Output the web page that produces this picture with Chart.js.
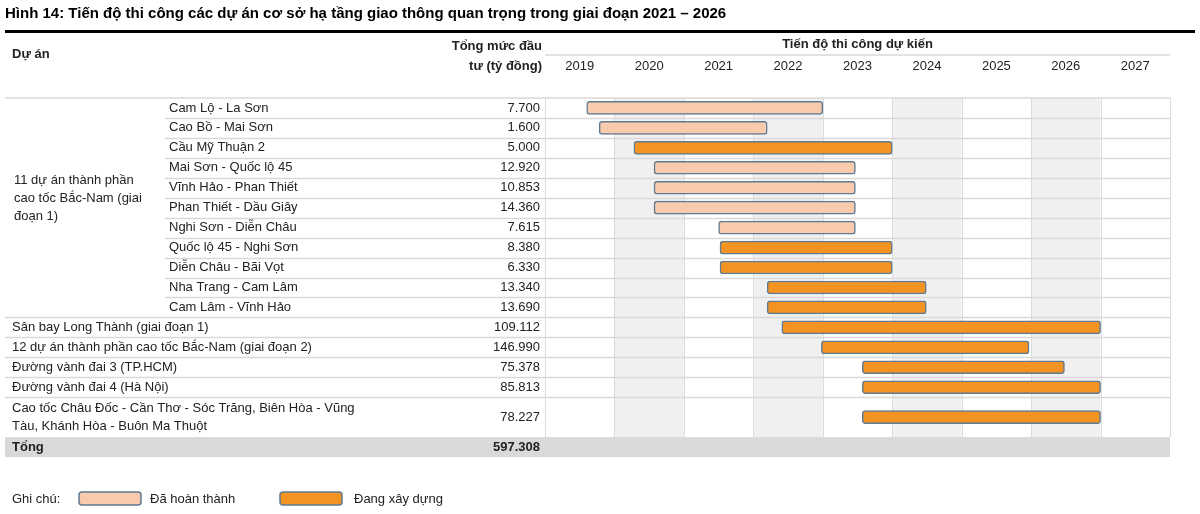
<!DOCTYPE html>
<html>
<head>
<meta charset="utf-8">
<script src="https://cdn.jsdelivr.net/npm/chart.js@4"></script>
<style>
  html, body { margin: 0; padding: 0; background: #fff; }
  #wrap { width: 1200px; height: 514px; position: relative; }
</style>
</head>
<body>
<div id="wrap"><canvas id="gantt" width="1200" height="514"></canvas></div>
<script>
// table rows
const projects = [
  "Cam Lộ - La Sơn", "Cao Bồ - Mai Sơn", "Cầu Mỹ Thuận 2", "Mai Sơn - Quốc lộ 45",
  "Vĩnh Hảo - Phan Thiết", "Phan Thiết - Dầu Giây", "Nghi Sơn - Diễn Châu",
  "Quốc lộ 45 - Nghi Sơn", "Diễn Châu - Bãi Vọt", "Nha Trang - Cam Lâm", "Cam Lâm - Vĩnh Hảo",
  "Sân bay Long Thành (giai đoạn 1)", "12 dự án thành phần cao tốc Bắc-Nam (giai đoạn 2)",
  "Đường vành đai 3 (TP.HCM)", "Đường vành đai 4 (Hà Nội)",
  ["Cao tốc Châu Đốc - Cần Thơ - Sóc Trăng, Biên Hòa - Vũng", "Tàu, Khánh Hòa - Buôn Ma Thuột"]
];
const investment = ["7.700", "1.600", "5.000", "12.920", "10.853", "14.360", "7.615", "8.380",
  "6.330", "13.340", "13.690", "109.112", "146.990", "75.378", "85.813", "78.227"];
const startYear = [2019.6, 2019.78, 2020.28, 2020.57, 2020.57, 2020.57, 2021.5, 2021.52,
  2021.52, 2022.2, 2022.2, 2022.41, 2022.98, 2023.57, 2023.57, 2023.57];
const endYear = [2023.0, 2022.2, 2024.0, 2023.47, 2023.47, 2023.47, 2023.47, 2024.0,
  2024.0, 2024.49, 2024.49, 2027.0, 2025.97, 2026.48, 2027.0, 2027.0];
const completed = [true, true, false, true, true, true, true, false, false, false, false,
  false, false, false, false, false];
const years = [2019, 2020, 2021, 2022, 2023, 2024, 2025, 2026, 2027];
const totalLabel = "Tổng";
const totalValue = "597.308";
const groupLabel = ["11 dự án thành phần", "cao tốc Bắc-Nam (giai", "đoạn 1)"];

// row heights (last project spans two text lines)
const rowH = projects.map(p => Array.isArray(p) ? 2 : 1);
const rowTop = [];
let acc = 0;
rowH.forEach(h => { rowTop.push(acc); acc += h; });
const totalTop = acc;
const yMax = acc + 1;

const lightFill = "#f8cbad", orangeFill = "#f39322", barBorder = "#5f7a93";
const FONT = "'Liberation Sans', Arial, sans-serif";

function rowData(done) {
  return startYear.map((s, i) => completed[i] === done
    ? { x: [s, endYear[i]], y: rowTop[i] + rowH[i] / 2 } : null).filter(Boolean);
}

const tablePlugin = {
  id: "tablePlugin",
  beforeDatasetsDraw(chart) {
    const ctx = chart.ctx, xs = chart.scales.x, ys = chart.scales.y;
    const left = xs.left, right = xs.right;
    const py = v => ys.getPixelForValue(v);
    ctx.save();
    // shaded year columns
    ctx.fillStyle = "#f0f0f0";
    years.forEach(y => {
      if (y % 2 === 0) ctx.fillRect(xs.getPixelForValue(y), py(0), xs.getPixelForValue(y + 1) - xs.getPixelForValue(y), py(totalTop) - py(0));
    });
    // vertical grid
    ctx.strokeStyle = "#dcdcdc"; ctx.lineWidth = 1;
    years.concat([2028]).forEach(y => {
      const x = Math.round(xs.getPixelForValue(y)) + 0.5;
      ctx.beginPath(); ctx.moveTo(x, py(0)); ctx.lineTo(x, py(totalTop)); ctx.stroke();
    });
    // horizontal row lines
    rowTop.forEach((t, i) => {
      if (i === 0) return;
      const yy = Math.round(py(t)) + 0.5;
      ctx.strokeStyle = "#d9d9d9"; ctx.lineWidth = 1.5;
      ctx.beginPath(); ctx.moveTo(i < 11 ? 165 : 5, yy); ctx.lineTo(right, yy); ctx.stroke();
    });
    // total row
    ctx.fillStyle = "#d9d9d9";
    ctx.fillRect(5, py(totalTop), right - 5, py(yMax) - py(totalTop));
    // header lines
    ctx.strokeStyle = "#d9d9d9"; ctx.lineWidth = 1.5;
    ctx.beginPath(); ctx.moveTo(5, py(0)); ctx.lineTo(right, py(0)); ctx.stroke();
    ctx.beginPath(); ctx.moveTo(left, 55); ctx.lineTo(right, 55); ctx.stroke();

    // texts
    ctx.fillStyle = "#222"; ctx.textBaseline = "middle";
    ctx.font = "bold 13px " + FONT;
    ctx.textAlign = "left"; ctx.fillText("Dự án", 12, 54);
    ctx.textAlign = "right"; ctx.fillText("Tổng mức đầu", 542, 46); ctx.fillText("tư (tỷ đồng)", 542, 66);
    ctx.textAlign = "center"; ctx.fillText("Tiến độ thi công dự kiến", (left + right) / 2, 44);
    ctx.font = "13px " + FONT;
    years.forEach(y => ctx.fillText(String(y), xs.getPixelForValue(y + 0.5), 66));

    projects.forEach((p, i) => {
      const c = py(rowTop[i] + rowH[i] / 2);
      ctx.textAlign = "left";
      const x0 = i < 11 ? 169 : 12;
      if (Array.isArray(p)) { ctx.fillText(p[0], x0, c - 9); ctx.fillText(p[1], x0, c + 9); }
      else ctx.fillText(p, x0, c);
      ctx.textAlign = "right"; ctx.fillText(investment[i], 540, c);
    });
    ctx.textAlign = "left";
    groupLabel.forEach((t, k) => ctx.fillText(t, 14, 180 + k * 18));
    const tc = py(totalTop + 0.5);
    ctx.font = "bold 13px " + FONT;
    ctx.fillText(totalLabel, 12, tc);
    ctx.textAlign = "right"; ctx.fillText(totalValue, 540, tc);

    // title
    ctx.textAlign = "left"; ctx.font = "bold 15px " + FONT; ctx.fillStyle = "#000";
    ctx.fillText("Hình 14: Tiến độ thi công các dự án cơ sở hạ tầng giao thông quan trọng trong giai đoạn 2021 – 2026", 5, 14);
    ctx.fillRect(5, 30, 1190, 3);

    // legend
    ctx.font = "13px " + FONT; ctx.fillStyle = "#222";
    ctx.fillText("Ghi chú:", 12, 499);
    [[79, lightFill, "Đã hoàn thành", 150], [280, orangeFill, "Đang xây dựng", 354]].forEach(([x, f, t, tx]) => {
      ctx.fillStyle = f; ctx.strokeStyle = barBorder; ctx.lineWidth = 1.5;
      ctx.beginPath(); ctx.roundRect(x, 492, 62, 13, 3); ctx.fill(); ctx.stroke();
      ctx.fillStyle = "#222"; ctx.fillText(t, tx, 499);
    });
    ctx.restore();
  }
};

new Chart(document.getElementById("gantt"), {
  type: "bar",
  data: {
    datasets: [
      { label: "Đã hoàn thành", data: rowData(true), backgroundColor: lightFill },
      { label: "Đang xây dựng", data: rowData(false), backgroundColor: orangeFill }
    ].map(d => Object.assign(d, {
      borderColor: barBorder, borderWidth: 1.5, borderRadius: 3, borderSkipped: false,
      barThickness: 13, grouped: false
    }))
  },
  options: {
    indexAxis: "y",
    responsive: false,
    animation: false,
    devicePixelRatio: 1,
    layout: { padding: { left: 545, right: 30, top: 78, bottom: 37 } },
    plugins: { legend: { display: false }, tooltip: { enabled: false } },
    scales: {
      x: { type: "linear", min: 2019, max: 2028, display: false },
      y: { type: "linear", min: 0, max: yMax, reverse: true, display: false }
    }
  },
  plugins: [tablePlugin]
});
</script>
</body>
</html>
